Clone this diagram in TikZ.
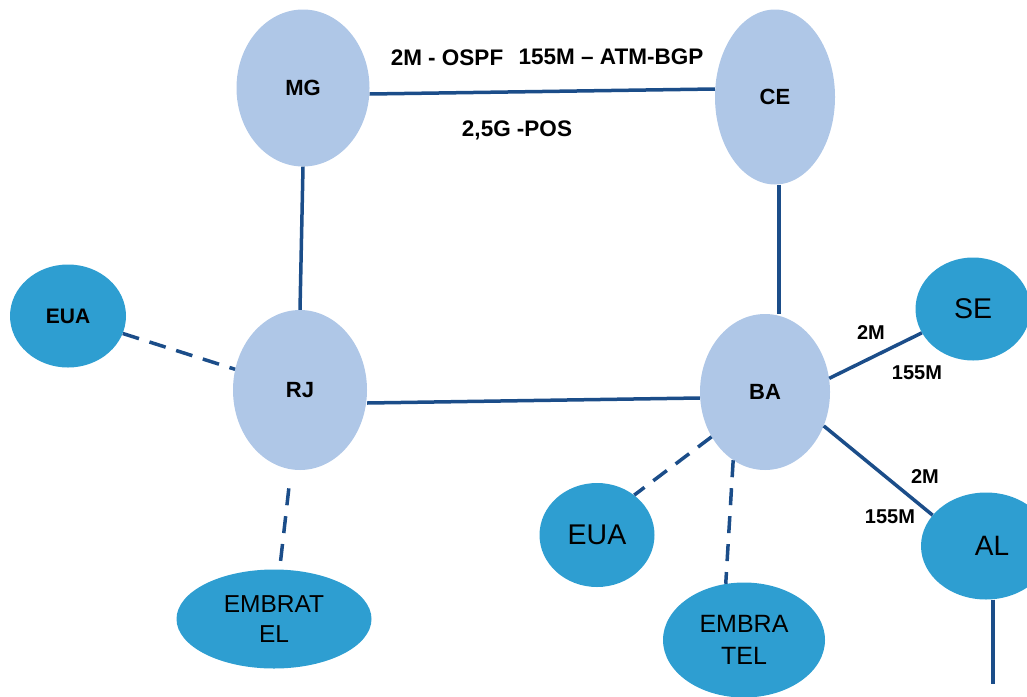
\documentclass[tikz,border=0pt]{standalone}
\usepackage{fontspec}
\setmainfont{Liberation Sans}
\usetikzlibrary{shapes.geometric}

\definecolor{corecol}{HTML}{AFC7E7}
\definecolor{edgecol}{HTML}{2E9ED1}
\definecolor{linkcol}{HTML}{1B4D89}

\tikzset{
  core/.style={ellipse, fill=corecol, draw=none, inner sep=0pt,
    font=\bfseries\fontsize{22}{26}\selectfont},
  peer/.style={ellipse, fill=edgecol, draw=none, inner sep=0pt, align=center},
  link/.style={draw=linkcol, line width=3.5pt},
  dlink/.style={draw=linkcol, line width=3.5pt, dash pattern=on 17pt off 11pt},
  lbl/.style={font=\bfseries\fontsize{22.5}{26}\selectfont, inner sep=0pt},
  slbl/.style={font=\bfseries\fontsize{20}{24}\selectfont, inner sep=0pt}
}

\begin{document}
\begin{tikzpicture}[x=1pt, y=-1pt]
\useasboundingbox (0,0) rectangle (1027,696);
\clip (0,0) rectangle (1027,696);

% backbone routers
\node[core, minimum width=133pt, minimum height=157pt] (MG) at (303,88) {MG};
\node[core, minimum width=120pt, minimum height=175pt] (CE) at (775,97) {CE};
\node[core, minimum width=134pt, minimum height=160pt] (RJ) at (300,390) {RJ};
\node[core, minimum width=130pt, minimum height=156pt] (BA) at (765,392) {BA};

% external peers
\node[peer, minimum width=116pt, minimum height=103pt,
      font=\bfseries\fontsize{21}{24}\selectfont] (EUAw) at (68,316) {EUA};
\node[peer, minimum width=195pt, minimum height=99pt,
      font=\fontsize{24.5}{30}\selectfont] (EMBw) at (274,619) {EMBRAT\\EL};
\node[peer, minimum width=115pt, minimum height=104pt,
      font=\fontsize{28.5}{32}\selectfont] (EUAs) at (597,535) {EUA};
\node[peer, minimum width=162pt, minimum height=115pt,
      font=\fontsize{25}{32}\selectfont] (EMBs) at (744,640) {EMBRA\\TEL};
\node[peer, minimum width=115pt, minimum height=103pt,
      font=\fontsize{28.5}{32}\selectfont] (SE) at (973,309) {SE};
\node[peer, minimum width=130pt, minimum height=107pt,
      font=\fontsize{28}{32}\selectfont] (AL) at (986,546) {\hspace*{12pt}AL};
\coordinate (ALend) at (993,684);

% backbone links
\draw[link] ([yshift=-6pt]MG.east) -- ([yshift=8pt]CE.west);
\draw[link] (MG.south) -- (RJ.north);
\draw[link] (CE.south -| 779,0) -- (BA.north -| 779,0);
\draw[link] ([yshift=-13pt]RJ.east) -- ([yshift=-6pt]BA.west);

% links to peers
\draw[dlink] (EUAw) -- (RJ);
\draw[dlink, shorten <=19pt, shorten >=4pt] (RJ) -- (EMBw);
\draw[dlink] (BA.220) -- (EUAs.47);
\draw[dlink] (BA.245) -- (EMBs.108);
\draw[link] (BA.12) -- (SE.205);
\draw[link] (BA.-30) -- (AL.150);
\draw[link] (ALend |- AL.south) -- (ALend);

% link labels
\node[lbl] (l1) at (447,58) {2M - OSPF};
\node[lbl] (l2) at (611,57) {155M -- ATM-BGP};
\node[lbl] (l3) at (517,130) {2,5G -POS};
\node[slbl] (l4) at (871,333) {2M};
\node[slbl] (l5) at (917,373) {155M};
\node[slbl] (l6) at (925,477) {2M};
\node[slbl] (l7) at (890,517) {155M};
\end{tikzpicture}
\end{document}
